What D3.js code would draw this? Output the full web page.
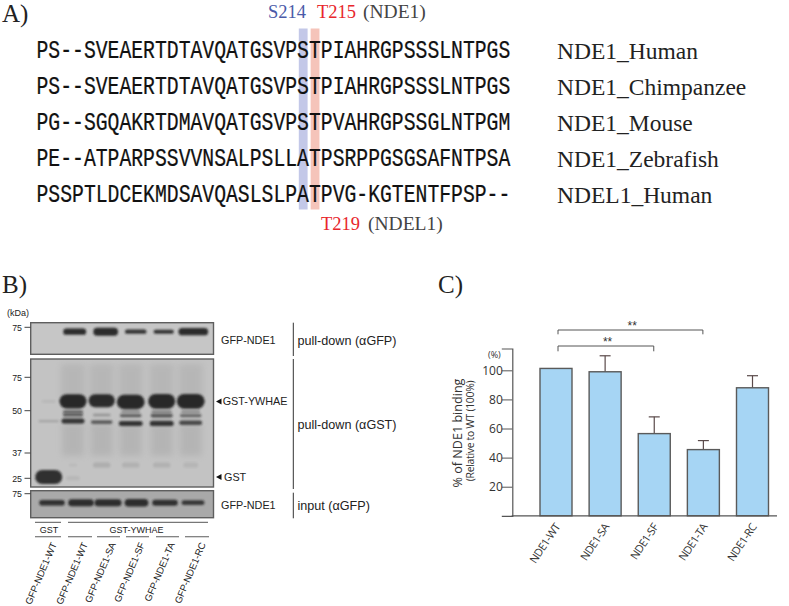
<!DOCTYPE html>
<html>
<head>
<meta charset="utf-8">
<style>
  html, body { margin: 0; padding: 0; background: #fff; }
  svg { display: block; }
  text { fill: #222; }
</style>
</head>
<body>
<div id="chart"></div>
<script src="https://cdn.jsdelivr.net/npm/d3@7"></script>
<script>
// A) alignment
const sequences = [
  "PS--SVEAERTDTAVQATGSVPSTPIAHRGPSSSLNTPGS",
  "PS--SVEAERTDTAVQATGSVPSTPIAHRGPSSSLNTPGS",
  "PG--SGQAKRTDMAVQATGSVPSTPVAHRGPSSGLNTPGM",
  "PE--ATPARPSSVVNSALPSLLATPSRPPGSGSAFNTPSA",
  "PSSPTLDCEKMDSAVQASLSLPATPVG-KGTENTFPSP--"
];
const speciesNames = ["NDE1_Human", "NDE1_Chimpanzee", "NDE1_Mouse", "NDE1_Zebrafish", "NDEL1_Human"];
const highlightColumns = [22, 23];

// B) blot
const laneNames = ["GFP-NDE1-WT", "GFP-NDE1-WT", "GFP-NDE1-SA", "GFP-NDE1-SF", "GFP-NDE1-TA", "GFP-NDE1-RC"];
const topLanes = [48, 74.7, 105.7, 135.7, 163.7, 193.3];
const midLanes = [48.7, 73, 101.7, 130.7, 161.7, 190.7];
const bottomLanes = [52, 81, 108, 136.5, 165, 193];
const markers = [75, 50, 37, 25];
// [lane, kDa, relative width, half thickness, darkness]
const topBands = [[1, 72, 0.85, 3.2, 0.9], [2, 72, 0.92, 4, 0.9], [3, 72, 0.8, 2.2, 0.85], [4, 72, 0.75, 2, 0.85], [5, 72, 1.1, 3.6, 0.9]];
const midBands = [
  [0, 46.8, 0.75, 1.2, 0.18], [0, 57, 0.5, 1.2, 0.08],
  [0, 25.6, 1, 7, 0.88],
  [1, 57, 1, 7.2, 0.92], [2, 57.5, 0.97, 6.5, 0.9], [3, 56.5, 1.03, 7.2, 0.92], [4, 57, 1, 7.4, 0.92], [5, 57, 1.03, 7.4, 0.92],
  [1, 49.7, 0.75, 1.5, 0.55], [1, 48.7, 0.75, 1.6, 0.6], [1, 46.8, 0.85, 2.5, 0.85],
  [2, 48.7, 0.65, 1.2, 0.28], [2, 46.5, 0.8, 1.8, 0.6],
  [3, 49.7, 0.7, 1.2, 0.35], [3, 48.5, 0.8, 1.7, 0.6], [3, 46.1, 0.88, 2.5, 0.85],
  [4, 49.7, 0.75, 1.3, 0.4], [4, 48.5, 0.82, 1.8, 0.65], [4, 46.1, 0.88, 2.6, 0.85],
  [5, 49.7, 0.7, 1.2, 0.35], [5, 48.5, 0.8, 1.7, 0.55], [5, 46.3, 0.85, 2.2, 0.72],
  [2, 31.3, 0.65, 2.6, 0.12], [3, 31.3, 0.65, 2.6, 0.1], [4, 31.3, 0.65, 2.6, 0.1], [5, 31.3, 0.55, 2.6, 0.08], [1, 31.3, 0.3, 1.5, 0.05],
  [1, 25, 0.5, 2, 0.07]
];
const bottomBands = [[0, 68, 0.95, 2.8, 0.85], [1, 68, 0.95, 3.5, 0.88], [2, 68, 1, 3.5, 0.88], [3, 68, 0.88, 3.8, 0.88], [4, 68, 0.95, 3, 0.85], [5, 68, 0.85, 2.4, 0.8]];
const smearLanes = [1, 2, 3, 4, 5];

// C) bars
const mutants = ["NDE1-WT", "NDE1-SA", "NDE1-SF", "NDE1-TA", "NDE1-RC"];
const binding = [101.3, 99, 56.5, 45.5, 88];
const errorTops = [101.3, 110, 68, 51.7, 96.3];
const yTicks = [20, 40, 60, 80, 100];

const svg = d3.select("#chart").append("svg").attr("width", 789).attr("height", 606);
const serif = "'Liberation Serif', serif";
const sans = "'Liberation Sans', Arial, sans-serif";
const openSans = "'Open Sans', sans-serif";

const defs = svg.append("defs");
[["blur1", 1], ["blur2", 1.2], ["blur3", 3]].forEach(([id, s]) => {
  defs.append("filter").attr("id", id)
    .attr("x", "-40%").attr("y", "-200%").attr("width", "180%").attr("height", "500%")
    .append("feGaussianBlur").attr("stdDeviation", s);
});

function label(g, x, y, txt, size, font, color, anchor) {
  return g.append("text").attr("x", x).attr("y", y).text(txt)
    .attr("font-size", size).attr("font-family", font)
    .style("fill", color || "#222").attr("text-anchor", anchor || "start");
}

// panel letters
label(svg, 2, 22, "A)", 25, serif, "#222");
label(svg, 2, 293, "B)", 25, serif, "#222");
label(svg, 438, 293, "C)", 25, serif, "#222");

// ---- A ----
const seqX = d3.scaleLinear().domain([0, 40]).range([36.5, 510.5]);
const seqY = d3.scalePoint().domain(d3.range(sequences.length)).range([57.5, 201.7]);
const colColors = ["#c3c8e8", "#f5c4ba"];
const seqSize = 25;
const seqSquash = (seqX(40) - seqX(0)) / (40 * 0.6 * seqSize);
svg.selectAll("rect.hl").data(highlightColumns).enter().append("rect")
  .attr("class", "hl")
  .attr("x", d => seqX(d) + 1.6)
  .attr("width", 8.8)
  .attr("y", 28.5).attr("height", 181)
  .attr("fill", (d, i) => colColors[i]);
svg.selectAll("text.seq").data(sequences).enter().append("text")
  .attr("class", "seq")
  .attr("transform", (d, i) => `translate(${seqX(0)},${seqY(i)}) scale(${seqSquash},1)`)
  .attr("font-family", "'Liberation Mono', monospace")
  .attr("font-size", seqSize)
  .attr("stroke", "#111").attr("stroke-width", 0.25)
  .style("fill", "#111")
  .text(d => d);
svg.selectAll("text.species").data(speciesNames).enter().append("text")
  .attr("class", "species")
  .attr("x", 557)
  .attr("y", (d, i) => seqY(i) + 1.5)
  .attr("font-family", serif)
  .attr("font-size", 23.5)
  .style("fill", "#222")
  .text(d => d);
label(svg, 268, 18, "S214", 18.5, serif, "#4a5aa8");
label(svg, 317, 18, "T215", 18.5, serif, "#e8262c");
label(svg, 363, 18, "(NDE1)", 19.5, serif, "#444");
label(svg, 321, 230, "T219", 18.5, serif, "#e8262c");
label(svg, 368, 230, "(NDEL1)", 19.5, serif, "#444");

// ---- B ----
const panelX0 = 30.7, panelX1 = 213.5;
const laneWidth = 27;

const yTop = d3.scaleLog().domain([75, 60]).range([327.3, 351]);
const yMid = d3.scaleLinear().domain([75, 50, 37, 25]).range([377.3, 410.7, 453, 478.3]);
const yBottom = d3.scaleLog().domain([75, 50]).range([493.7, 531]);

function panel(id, y0, y1, bg, bands, scale, lanes) {
  const clip = defs.append("clipPath").attr("id", id);
  clip.append("rect").attr("x", panelX0).attr("y", y0).attr("width", panelX1 - panelX0).attr("height", y1 - y0);
  const g = svg.append("g").attr("clip-path", `url(#${id})`);
  g.append("rect").attr("x", panelX0).attr("y", y0).attr("width", panelX1 - panelX0).attr("height", y1 - y0).attr("fill", bg);
  const smearG = g.append("g");
  g.append("g").selectAll("rect").data(bands).enter().append("rect")
    .attr("x", d => lanes[d[0]] - laneWidth / 2 * d[2])
    .attr("width", d => laneWidth * d[2])
    .attr("y", d => scale(d[1]) - d[3])
    .attr("height", d => d[3] * 2)
    .attr("rx", d => d[3])
    .attr("fill", "#1c1c1c")
    .attr("opacity", d => d[4])
    .attr("filter", d => d[3] > 2.5 ? "url(#blur1)" : "url(#blur2)");
  svg.append("rect").attr("x", panelX0).attr("y", y0).attr("width", panelX1 - panelX0).attr("height", y1 - y0)
    .attr("fill", "none").attr("stroke", "#5e5e5e").attr("stroke-width", 1.4);
  return smearG;
}

panel("p1", 322.7, 354.3, "#c6c6c6", topBands, yTop, topLanes);
const midSmear = panel("p2", 359, 487, "#c3c3c3", midBands, yMid, midLanes);
panel("p3", 490.7, 517.7, "#a9a9a9", bottomBands, yBottom, bottomLanes);

// lane streaks above and below the main band
midSmear.selectAll("rect.below").data(smearLanes).enter().append("rect")
  .attr("class", "below")
  .attr("x", d => midLanes[d] - 11).attr("width", 22)
  .attr("y", yMid(46)).attr("height", 32)
  .attr("fill", "#8c8c8c").attr("opacity", 0.26).attr("filter", "url(#blur3)");
midSmear.selectAll("rect.above").data(smearLanes).enter().append("rect")
  .attr("class", "above")
  .attr("x", d => midLanes[d] - 12).attr("width", 24)
  .attr("y", 364).attr("height", 36)
  .attr("fill", "#8c8c8c").attr("opacity", 0.22).attr("filter", "url(#blur3)");

// marker ticks
label(svg, 7, 316, "(kDa)", 9, sans, "#222");
function tick(kDa, y) {
  svg.append("line").attr("x1", 24.5).attr("x2", panelX0).attr("y1", y).attr("y2", y).attr("stroke", "#444");
  label(svg, 22, y + 3.2, kDa, 8.8, sans, "#222", "end");
}
markers.forEach(m => tick(m, yMid(m)));
tick(75, yTop(75));
tick(75, yBottom(75));

// right side annotations
label(svg, 221, 344, "GFP-NDE1", 10.8, sans, "#222");
label(svg, 221, 509, "GFP-NDE1", 10.8, sans, "#222");
label(svg, 297.5, 345, "pull-down (\u03b1GFP)", 12.6, sans, "#222");
label(svg, 297.5, 429, "pull-down (\u03b1GST)", 12.6, sans, "#222");
label(svg, 297.5, 510, "input (\u03b1GFP)", 12.6, sans, "#222");
label(svg, 222.7, 405, "GST-YWHAE", 10.8, sans, "#222");
label(svg, 224, 480.7, "GST", 10.8, sans, "#222");
[[216, 401.5], [216, 477]].forEach(([x, y]) => {
  svg.append("path").attr("d", d3.line()([[x, y], [x + 5.5, y - 3], [x + 5.5, y + 3]])).attr("fill", "#111");
});
[[322.7, 356], [359, 489], [492.7, 518.3]].forEach(([a, b]) => {
  svg.append("line").attr("x1", 293.3).attr("x2", 293.3).attr("y1", a).attr("y2", b).attr("stroke", "#333");
});

// group brackets under blot
const groupLines = [[35, 61], [68, 208]];
groupLines.forEach(([a, b]) => {
  svg.append("line").attr("x1", a).attr("x2", b).attr("y1", 522.3).attr("y2", 522.3).attr("stroke", "#555");
});
label(svg, 49, 533, "GST", 9, sans, "#222", "middle");
label(svg, 136.5, 533, "GST-YWHAE", 9, sans, "#222", "middle");
const underLines = [[35, 61], [68, 92], [97, 120], [126, 149], [156, 179], [185, 209]];
underLines.forEach(([a, b]) => {
  svg.append("line").attr("x1", a).attr("x2", b).attr("y1", 536.7).attr("y2", 536.7).attr("stroke", "#777").attr("stroke-width", 1.2);
});
const laneLabelX = [57, 88, 116, 145, 175, 206];
svg.selectAll("text.lane").data(laneNames).enter().append("text")
  .attr("class", "lane")
  .attr("transform", (d, i) => `translate(${laneLabelX[i]},544) rotate(-67)`)
  .attr("text-anchor", "end")
  .attr("font-family", sans)
  .attr("font-size", 9.6)
  .text(d => d);

// ---- C ----
const x = d3.scalePoint().domain(mutants).range([556, 752.5]);
const y = d3.scaleLinear().domain([0, 115]).range([515.8, 348.5]);
const barWidth = 32;

const barsG = svg.append("g");
// error bars first so the bars sit over the stem
barsG.selectAll("line.err").data(mutants).enter().append("line")
  .attr("class", "err")
  .attr("x1", d => x(d)).attr("x2", d => x(d))
  .attr("y1", (d, i) => y(binding[i]))
  .attr("y2", (d, i) => y(errorTops[i]))
  .attr("stroke", "#5a4a4a").attr("stroke-width", 1.2);
barsG.selectAll("line.cap").data(mutants.filter((d, i) => errorTops[i] > binding[i])).enter().append("line")
  .attr("class", "cap")
  .attr("x1", d => x(d) - 5.5).attr("x2", d => x(d) + 5.5)
  .attr("y1", d => y(errorTops[mutants.indexOf(d)]))
  .attr("y2", d => y(errorTops[mutants.indexOf(d)]))
  .attr("stroke", "#5a4a4a").attr("stroke-width", 1.2);
barsG.selectAll("rect.bar").data(mutants).enter().append("rect")
  .attr("class", "bar")
  .attr("x", d => x(d) - barWidth / 2)
  .attr("width", barWidth)
  .attr("y", (d, i) => y(binding[i]))
  .attr("height", (d, i) => y(0) - y(binding[i]))
  .attr("fill", "#a6d5f4")
  .attr("stroke", "#5a5a5a")
  .attr("stroke-width", 1.4);

const yAxis = d3.axisLeft(y).tickValues(yTicks).tickSize(10.5).tickPadding(-1);
const yG = svg.append("g").attr("transform", "translate(512.3,0)").call(yAxis);
yG.select(".domain").attr("stroke", "#555").attr("stroke-width", 1.2);
yG.selectAll(".tick line").attr("stroke", "#555").attr("stroke-width", 1);
yG.selectAll(".tick text").attr("font-family", openSans).attr("font-size", 12).style("fill", "#333");
svg.append("line").attr("x1", 511.7).attr("x2", 777).attr("y1", y(0)).attr("y2", y(0)).attr("stroke", "#555").attr("stroke-width", 1.2);

svg.selectAll("text.xlab").data(mutants).enter().append("text")
  .attr("class", "xlab")
  .attr("transform", d => `translate(${x(d) + 4.5},527) rotate(-56)`)
  .attr("text-anchor", "end")
  .attr("font-family", openSans)
  .attr("font-size", 11)
  .attr("letter-spacing", -0.5)
  .style("fill", "#333")
  .text(d => d);

label(svg, 488, 358, "(%)", 9, openSans, "#333");
svg.append("text").attr("transform", "translate(462,433) rotate(-90)").attr("text-anchor", "middle")
  .attr("font-family", openSans).attr("font-size", 12.6).style("fill", "#333").text("% of NDE1 binding");
svg.append("text").attr("transform", "translate(474,431) rotate(-90)").attr("text-anchor", "middle")
  .attr("font-family", openSans).attr("font-size", 10.4).attr("letter-spacing", -0.3).style("fill", "#333").text("(Relative to WT (100%)");

// significance brackets
const sigPairs = [["NDE1-WT", "NDE1-SF", 346, 351.3], ["NDE1-WT", "NDE1-TA", 330, 334.3]];
sigPairs.forEach(([a, b, top, bot]) => {
  svg.append("path")
    .attr("d", d3.line()([[x(a) + 2, bot], [x(a) + 2, top], [x(b) - 0.5, top], [x(b) - 0.5, bot]]))
    .attr("fill", "none").attr("stroke", "#555").attr("stroke-width", 1);
  label(svg, (x(a) + x(b)) / 2 + 2.5, top - 0.5, "**", 12, sans, "#333", "middle");
});
</script>
</body>
</html>
